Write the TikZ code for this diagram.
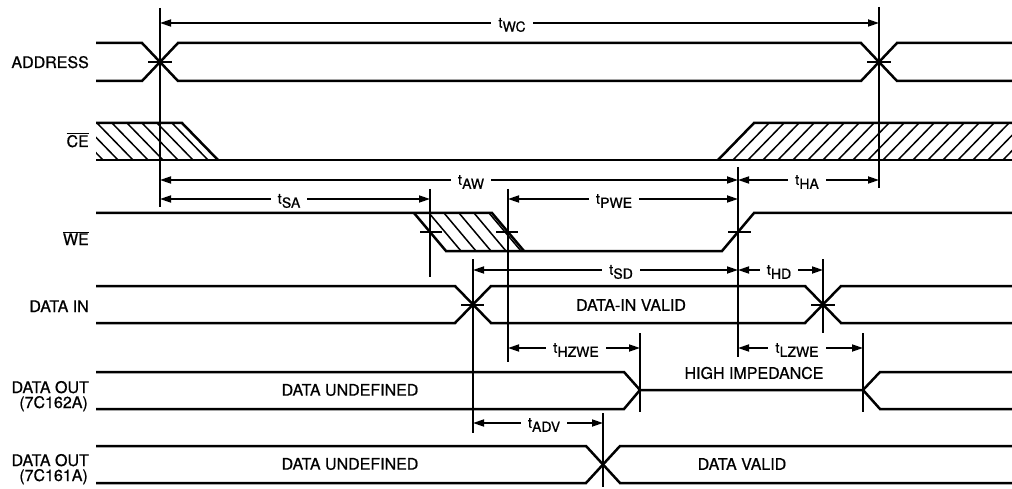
\documentclass[tikz,border=0pt]{standalone}
\usepackage{fontspec}
\setmainfont[FakeBold=0.7]{TeX Gyre Heros}
\usetikzlibrary{arrows.meta}
\newcommand\tsb[1]{{\fontsize{14.5}{14.5}\selectfont t}\kern0.2pt\raisebox{-4pt}{\fontsize{14}{14}\selectfont #1}}
\newcommand\ovl[1]{$\overline{\hbox{#1}}$}
\begin{document}
\begin{tikzpicture}[x=1pt,y=-1pt,
  sig/.style={line width=2.5pt, line join=miter},
  vln/.style={line width=1.7pt},
  dim/.style={line width=1.7pt, {Triangle[length=11pt,width=7pt]}-{Triangle[length=11pt,width=7pt]}},
  dimlbl/.style={fill=white, inner xsep=7pt, inner ysep=1pt},
  signame/.style={anchor=base east, inner sep=0pt, font=\fontsize{16}{16}\selectfont},
  wavetxt/.style={inner sep=0pt, font=\fontsize{16}{16}\selectfont},
  hatchln/.style={line width=1.5pt},
  tickln/.style={line width=1.4pt}]

\useasboundingbox (0,0) rectangle (1012,489);

% ---------------- signal names ----------------
\node[signame] (nAddr) at (89,68) {ADDRESS};
\node[signame] (nCE) at (89,147) {\ovl{CE}};
\node[signame] (nWE) at (89,245) {\ovl{WE}};
\node[signame] (nDin) at (89,312) {DATA IN};
\node[signame] (nDo1a) at (89,393) {DATA OUT};
\node[signame] (nDo1b) at (88,408) {(7C162A)};
\node[signame] (nDo2a) at (89,466) {DATA OUT};
\node[signame] (nDo2b) at (88,481) {(7C161A)};

% ---------------- hatching ----------------
\begin{scope}
  \clip (96,123) -- (182,123) -- (218,160) -- (96,160) -- cycle;
  \foreach \x in {52,67,...,200} \draw[hatchln] (\x,123) -- ++(36,37);
\end{scope}
\begin{scope}
  \clip (718,160) -- (754,123) -- (1012,123) -- (1012,160) -- cycle;
  \foreach \x in {733,748,...,1012} \draw[hatchln] (\x,160) -- ++(36,-37);
\end{scope}
\begin{scope}
  \clip (414,213) -- (492,213) -- (524,251) -- (446,251) -- cycle;
  \foreach \x in {429,444,...,495} \draw[hatchln] (\x,213) -- ++(32,38);
\end{scope}

% ---------------- waveforms ----------------
% ADDRESS
\draw[sig] (96,43) -- (142,43) -- (178,81) -- (861,81) -- (897,43) -- (1012,43);
\draw[sig] (96,81) -- (142,81) -- (178,43) -- (861,43) -- (897,81) -- (1012,81);
% CE
\draw[sig] (96,123) -- (182,123) -- (218,160);
\draw[sig] (96,160) -- (1012,160);
\draw[sig] (718,160) -- (754,123) -- (1012,123);
% WE
\draw[sig] (96,213) -- (492,213) -- (524,251);
\draw[sig] (414,213) -- (446,251) -- (722,251) -- (754,213) -- (1012,213);
% DATA IN
\draw[sig] (96,286) -- (455,286) -- (491,323) -- (805,323) -- (841,286) -- (1012,286);
\draw[sig] (96,323) -- (455,323) -- (491,286) -- (805,286) -- (841,323) -- (1012,323);
% DATA OUT 7C162A
\draw[sig] (96,372) -- (624,372) -- (640,390) -- (863,390) -- (880,372) -- (1012,372);
\draw[sig] (96,409) -- (624,409) -- (640,390);
\draw[sig] (863,390) -- (880,409) -- (1012,409);
% DATA OUT 7C161A
\draw[sig] (96,446) -- (586,446) -- (620,483) -- (1012,483);
\draw[sig] (96,483) -- (586,483) -- (620,446) -- (1012,446);

% texts inside waveforms
\node[wavetxt] (tDU1) at (350,390) {DATA UNDEFINED};
\node[wavetxt] (tDIV) at (631,305) {DATA-IN VALID};
\node[wavetxt] (tHI) at (754,373) {HIGH IMPEDANCE};
\node[wavetxt] (tDU2) at (350,464) {DATA UNDEFINED};
\node[wavetxt] (tDV) at (742,464) {DATA VALID};

% ---------------- crossing ticks ----------------
\draw[tickln] (148,62) -- (172,62);
\draw[tickln] (867,62) -- (891,62);
\draw[tickln] (420,232) -- (442,232);
\draw[tickln] (496,232) -- (518,232);
\draw[tickln] (728,232) -- (751,232);
\draw[tickln] (461,305) -- (484,305);
\draw[tickln] (811,305) -- (835,305);

% ---------------- reference verticals ----------------
\coordinate (v1t) at (160,8);   \coordinate (v1b) at (160,207);
\coordinate (v2t) at (879,7);   \coordinate (v2b) at (879,188);
\coordinate (v3t) at (430,189); \coordinate (v3b) at (430,277);
\coordinate (v4t) at (508,189); \coordinate (v4b) at (508,362);
\coordinate (v5t) at (738,167); \coordinate (v5b) at (738,357);
\coordinate (v6t) at (473,259); \coordinate (v6b) at (473,433);
\coordinate (v7t) at (823,259); \coordinate (v7b) at (823,333);
\coordinate (v8t) at (640,333); \coordinate (v8b) at (640,412);
\coordinate (v9t) at (863,333); \coordinate (v9b) at (863,412);
\coordinate (v10t) at (603,413); \coordinate (v10b) at (603,487);
\foreach \v in {1,...,10} \draw[vln] (v\v t) -- (v\v b);

% ---------------- dimension arrows ----------------
\coordinate (wcL) at (160,23);  \coordinate (wcR) at (879,23);
\coordinate (awL) at (160,180); \coordinate (awR) at (738,180);
\coordinate (haL) at (738,180); \coordinate (haR) at (879,180);
\coordinate (saL) at (160,199); \coordinate (saR) at (430,199);
\coordinate (pwL) at (508,199); \coordinate (pwR) at (738,199);
\coordinate (sdL) at (473,270); \coordinate (sdR) at (738,270);
\coordinate (hdL) at (738,270); \coordinate (hdR) at (823,270);
\coordinate (hzL) at (508,348); \coordinate (hzR) at (640,348);
\coordinate (lzL) at (738,348); \coordinate (lzR) at (863,348);
\coordinate (adL) at (473,423); \coordinate (adR) at (603,423);

\draw[dim] (wcL) -- (wcR);
\draw[dim] (awL) -- (awR);
\draw[dim] (haL) -- (haR);
\draw[dim] (saL) -- (saR);
\draw[dim] (pwL) -- (pwR);
\draw[dim] (sdL) -- (sdR);
\draw[dim] (hdL) -- (hdR);
\draw[dim] (hzL) -- (hzR);
\draw[dim] (lzL) -- (lzR);
\draw[dim] (adL) -- (adR);

\node[dimlbl] (lwc) at (512,25) {\tsb{WC}};
\node[dimlbl] (law) at (471,182) {\tsb{AW}};
\node[dimlbl] (lha) at (807,182) {\tsb{HA}};
\node[dimlbl] (lsa) at (289,201) {\tsb{SA}};
\node[dimlbl] (lpw) at (614,201) {\tsb{PWE}};
\node[dimlbl] (lsd) at (621,272) {\tsb{SD}};
\node[dimlbl] (lhd) at (779,272) {\tsb{HD}};
\node[dimlbl] (lhz) at (576,350) {\tsb{HZWE}};
\node[dimlbl] (llz) at (797,350) {\tsb{LZWE}};
\node[dimlbl] (lad) at (544,425) {\tsb{ADV}};
\end{tikzpicture}
\end{document}
